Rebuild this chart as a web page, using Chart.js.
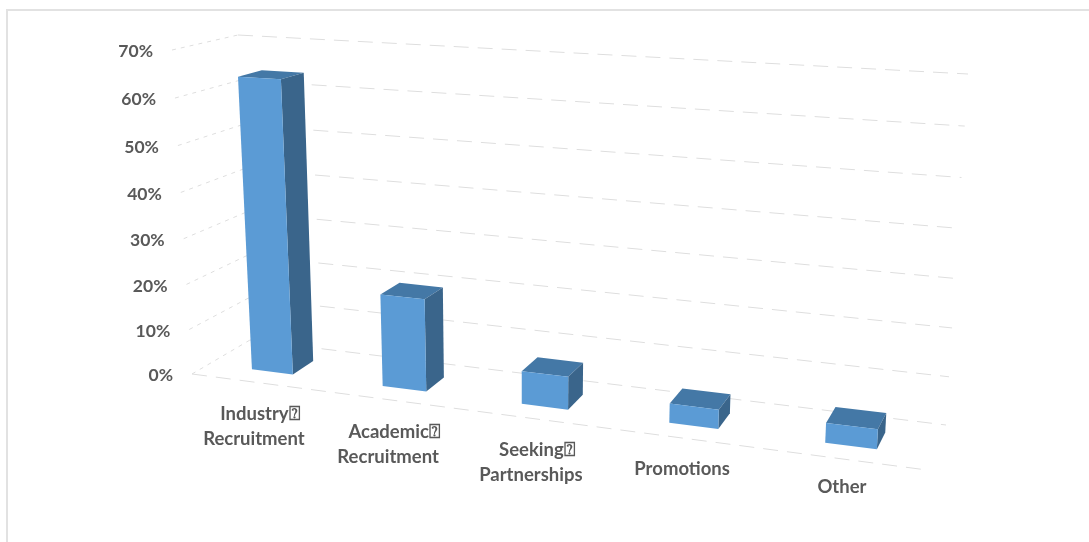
<!DOCTYPE html>
<html>
<head>
<meta charset="utf-8">
<style>
  html, body { margin: 0; padding: 0; background: #fff; overflow: hidden; }
  #frame { position: absolute; left: 6px; top: 9px; width: 1083px; height: 533px; box-sizing: border-box; border-left: 2px solid #e2e2e2; border-top: 2px solid #e2e2e2; }
  canvas { position: absolute; left: 0; top: 0; }
</style>
<script src="https://cdn.jsdelivr.net/npm/chart.js@4/dist/chart.umd.min.js"></script>
</head>
<body>
<div id="frame"></div>
<canvas id="chart" width="1089" height="542"></canvas>
<script>
const categories = [["Industry\u2370", "Recruitment"], ["Academic\u2370", "Recruitment"], ["Seeking\u2370", "Partnerships"], ["Promotions"], ["Other"]];
const shares = [64, 20, 7, 4, 4];
const axisMax = 70;
const axisStep = 10;

const frontColor = "#5b9bd5";
const sideColor = "#3a658b";
const topColor = "#4478a6";
const gridColor = "#dedede";
const textColor = "#595959";
const valueFont = "bold 17.5px Lato";
const categoryFont = "bold 18.5px Lato";

// corners of the 3D box on screen: floor and ceiling, front and back
const box = {
    floorFrontLeft: [192, 374], floorFrontRight: [927, 470],
    floorBackLeft: [250, 340], floorBackRight: [946, 425],
    roofFrontLeft: [172, 50], roofFrontRight: [948, 93],
    roofBackLeft: [238, 35], roofBackRight: [968, 74]
};
const warpX = 0.145;
const warpY = 0.045;
const barFront = 0.3;
const barBack = 0.68;
const labelRowTop = 405;
const labelRowDrop = 91;
const labelLineGap = 25;
const wrappedLineShift = 6;

function mix(a, b, t) {
    return [a[0] + (b[0] - a[0]) * t, a[1] + (b[1] - a[1]) * t];
}

// u across, d into the picture, v up, all 0..1
function project(u, d, v) {
    const uu = u - warpX * u * (1 - u);
    const vv = v - warpY * v * (1 - v);
    const floor = mix(mix(box.floorFrontLeft, box.floorFrontRight, uu), mix(box.floorBackLeft, box.floorBackRight, uu), d);
    const roof = mix(mix(box.roofFrontLeft, box.roofFrontRight, uu), mix(box.roofBackLeft, box.roofBackRight, uu), d);
    return mix(floor, roof, vv);
}

function face(ctx, points, color) {
    ctx.beginPath();
    points.forEach((p, i) => i ? ctx.lineTo(p[0], p[1]) : ctx.moveTo(p[0], p[1]));
    ctx.closePath();
    ctx.fillStyle = color;
    ctx.fill();
}

function line(ctx, a, b, dash) {
    ctx.beginPath();
    ctx.setLineDash(dash);
    ctx.moveTo(a[0], a[1]);
    ctx.lineTo(b[0], b[1]);
    ctx.stroke();
}

const perspective = {
    id: "perspective",
    beforeDatasetsDraw(chart) {
        const ctx = chart.ctx;
        const yScale = chart.scales.y;
        const xScale = chart.scales.x;
        const area = chart.chartArea;
        const toV = (px) => (area.bottom - px) / area.height;
        const toU = (px) => (px - area.left) / area.width;

        ctx.save();
        ctx.strokeStyle = gridColor;
        ctx.lineWidth = 1;
        yScale.ticks.forEach((tick, i) => {
            const v = toV(yScale.getPixelForTick(i));
            line(ctx, project(0, 0, v), project(0, 1, v), [4, 5]);
            line(ctx, project(0, 1, v), project(1, 1, v), [15, 9]);
        });
        line(ctx, project(0, 0, 0), project(1, 0, 0), [15, 9]);

        ctx.setLineDash([]);
        ctx.fillStyle = textColor;
        ctx.font = valueFont;
        ctx.textAlign = "right";
        ctx.textBaseline = "middle";
        yScale.ticks.forEach((tick, i) => {
            const p = project(0, 0, toV(yScale.getPixelForTick(i)));
            ctx.fillText(tick.label, p[0] - 19, p[1] + 1.5);
        });
        ctx.font = categoryFont;
        ctx.textAlign = "center";
        xScale.ticks.forEach((tick, i) => {
            const u = toU(xScale.getPixelForTick(i));
            const p = project(u, 0, 0);
            const lines = [].concat(tick.label);
            lines.forEach((text, n) => {
                const shift = lines.length > 1 && n === 0 ? wrappedLineShift : 0;
                ctx.fillText(text, p[0] - 2 + shift, labelRowTop + labelRowDrop * u + n * labelLineGap);
            });
        });
        ctx.restore();
    },
    beforeDatasetDraw(chart, args) {
        const ctx = chart.ctx;
        const area = chart.chartArea;
        const toV = (px) => (area.bottom - px) / area.height;
        const toU = (px) => (px - area.left) / area.width;

        ctx.save();
        args.meta.data.forEach((bar) => {
            const left = toU(bar.x - bar.width / 2);
            const right = toU(bar.x + bar.width / 2);
            const low = toV(bar.base);
            const high = toV(bar.y);
            face(ctx, [project(left, barFront, high), project(left, barBack, high), project(right, barBack, high), project(right, barFront, high)], topColor);
            face(ctx, [project(right, barFront, high), project(right, barBack, high), project(right, barBack, low), project(right, barFront, low)], sideColor);
            face(ctx, [project(left, barFront, high), project(right, barFront, high), project(right, barFront, low), project(left, barFront, low)], frontColor);
        });
        ctx.restore();
        return false;
    }
};

new Chart(document.getElementById("chart"), {
    type: "bar",
    data: {
        labels: categories,
        datasets: [{
            data: shares,
            backgroundColor: frontColor,
            barPercentage: 0.32,
            categoryPercentage: 1
        }]
    },
    options: {
        responsive: false,
        animation: false,
        layout: { padding: 0 },
        plugins: { legend: { display: false }, tooltip: { enabled: false } },
        scales: {
            x: {
                grid: { display: false },
                border: { display: false },
                ticks: { display: false, autoSkip: false, maxRotation: 0 }
            },
            y: {
                min: 0,
                max: axisMax,
                grid: { display: false },
                border: { display: false },
                ticks: { display: false, stepSize: axisStep, callback: (value) => value + "%" }
            }
        }
    },
    plugins: [perspective]
});
</script>
</body>
</html>
